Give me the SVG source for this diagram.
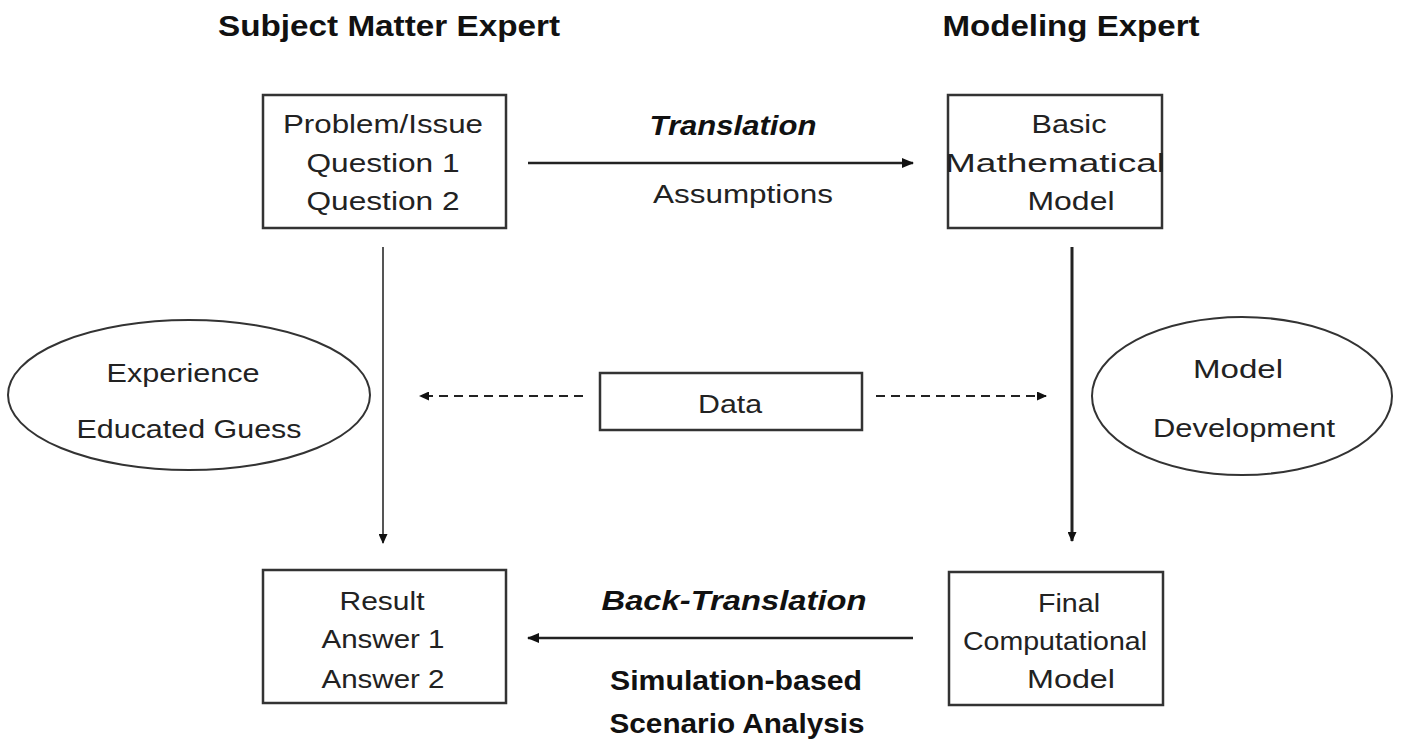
<svg xmlns="http://www.w3.org/2000/svg" width="1402" height="747" viewBox="0 0 1402 747">
<defs>
<marker id="ah" viewBox="0 0 12 10" refX="11" refY="5" markerWidth="12" markerHeight="10" markerUnits="userSpaceOnUse" orient="auto">
<path d="M0,0 L12,5 L0,10 Z" fill="#111"/>
</marker>
<marker id="ahs" viewBox="0 0 10 9" refX="9" refY="4.5" markerWidth="10" markerHeight="9" markerUnits="userSpaceOnUse" orient="auto">
<path d="M0,0 L10,4.5 L0,9 Z" fill="#111"/>
</marker>
<style>
.box{fill:#fff;stroke:#333;stroke-width:2.5}
.ell{fill:#fff;stroke:#333;stroke-width:2}
.t{font-family:"Liberation Sans",Arial,sans-serif;font-size:25px;fill:#222;text-anchor:middle}
.h{font-family:"Liberation Sans",Arial,sans-serif;font-size:29px;font-weight:bold;fill:#111;text-anchor:middle}
.bi{font-family:"Liberation Sans",Arial,sans-serif;font-size:27px;font-weight:bold;font-style:italic;fill:#111;text-anchor:middle}
.b{font-family:"Liberation Sans",Arial,sans-serif;font-size:27px;font-weight:bold;fill:#111;text-anchor:middle}
.ln{fill:none;stroke:#222;stroke-width:2.5}
.dash{fill:none;stroke:#222;stroke-width:2;stroke-dasharray:9 6}
</style>
</defs>
<rect width="1402" height="747" fill="#fff"/>

<g id="headers">
<text class="h" x="389" y="36" textLength="342" lengthAdjust="spacingAndGlyphs">Subject Matter Expert</text>
<text class="h" x="1071" y="36" textLength="257" lengthAdjust="spacingAndGlyphs">Modeling Expert</text>
</g>

<g id="connectors">
<line class="ln" x1="528" y1="163" x2="913" y2="163" marker-end="url(#ah)"/>
<line class="ln" x1="913" y1="638" x2="528" y2="638" marker-end="url(#ah)"/>
<line x1="383" y1="247" x2="383" y2="543" stroke="#555" stroke-width="2" marker-end="url(#ahs)"/>
<line x1="1072" y1="247" x2="1072" y2="541" stroke="#222" stroke-width="3" marker-end="url(#ahs)"/>
<line class="dash" x1="583" y1="396" x2="420" y2="396" marker-end="url(#ahs)"/>
<line class="dash" x1="876" y1="396" x2="1046" y2="396" marker-end="url(#ahs)"/>
<text class="bi" x="733" y="135" textLength="167" lengthAdjust="spacingAndGlyphs">Translation</text>
<text class="t" x="743" y="203" textLength="180" lengthAdjust="spacingAndGlyphs">Assumptions</text>
<text class="bi" x="734" y="610" textLength="265" lengthAdjust="spacingAndGlyphs">Back-Translation</text>
<text class="b" x="736" y="690" textLength="252" lengthAdjust="spacingAndGlyphs">Simulation-based</text>
<text class="b" x="737" y="733" textLength="255" lengthAdjust="spacingAndGlyphs">Scenario Analysis</text>
</g>

<g id="problem">
<rect class="box" x="263" y="95" width="243" height="133"/>
<text class="t" x="383" y="133" textLength="200" lengthAdjust="spacingAndGlyphs">Problem/Issue</text>
<text class="t" x="383" y="172" textLength="153" lengthAdjust="spacingAndGlyphs">Question 1</text>
<text class="t" x="383" y="210" textLength="153" lengthAdjust="spacingAndGlyphs">Question 2</text>
</g>

<g id="basic-model">
<rect class="box" x="948" y="95" width="214" height="133"/>
<text class="t" x="1069" y="133" textLength="75" lengthAdjust="spacingAndGlyphs">Basic</text>
<text class="t" x="1055" y="172" textLength="220" lengthAdjust="spacingAndGlyphs">Mathematical</text>
<text class="t" x="1071" y="210" textLength="87" lengthAdjust="spacingAndGlyphs">Model</text>
</g>

<g id="experience">
<ellipse class="ell" cx="189" cy="395" rx="181" ry="75"/>
<text class="t" x="183" y="382" textLength="153" lengthAdjust="spacingAndGlyphs">Experience</text>
<text class="t" x="189" y="438" textLength="225" lengthAdjust="spacingAndGlyphs">Educated Guess</text>
</g>

<g id="data">
<rect class="box" x="600" y="373" width="262" height="57"/>
<text class="t" x="730" y="413" textLength="64" lengthAdjust="spacingAndGlyphs">Data</text>
</g>

<g id="model-development">
<ellipse class="ell" cx="1242" cy="396" rx="150" ry="79"/>
<text class="t" x="1238" y="378" textLength="90" lengthAdjust="spacingAndGlyphs">Model</text>
<text class="t" x="1244" y="437" textLength="182" lengthAdjust="spacingAndGlyphs">Development</text>
</g>

<g id="result">
<rect class="box" x="263" y="570" width="243" height="133"/>
<text class="t" x="382" y="610" textLength="85" lengthAdjust="spacingAndGlyphs">Result</text>
<text class="t" x="383" y="648" textLength="123" lengthAdjust="spacingAndGlyphs">Answer 1</text>
<text class="t" x="383" y="688" textLength="123" lengthAdjust="spacingAndGlyphs">Answer 2</text>
</g>

<g id="final-model">
<rect class="box" x="949" y="572" width="214" height="133"/>
<text class="t" x="1069" y="612" textLength="62" lengthAdjust="spacingAndGlyphs">Final</text>
<text class="t" x="1055" y="650" textLength="184" lengthAdjust="spacingAndGlyphs">Computational</text>
<text class="t" x="1071" y="688" textLength="88" lengthAdjust="spacingAndGlyphs">Model</text>
</g>
</svg>
